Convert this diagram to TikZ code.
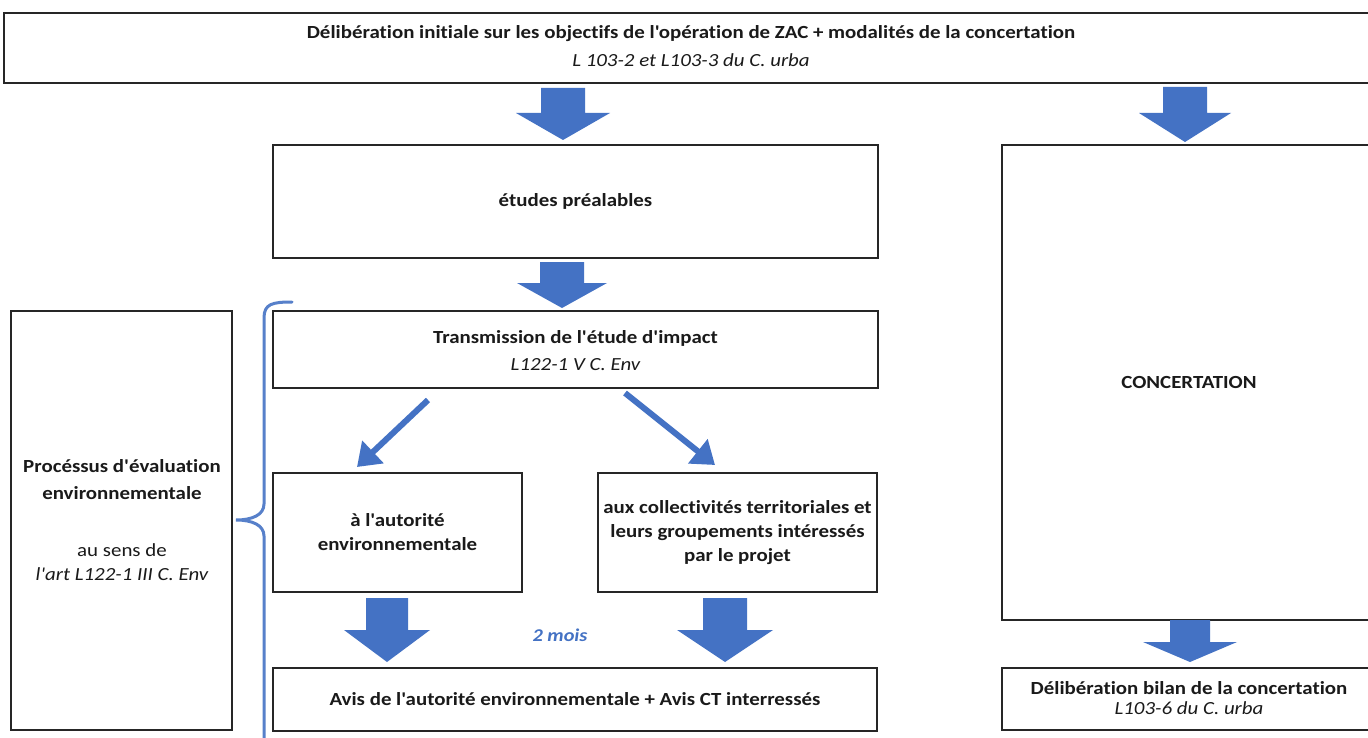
\documentclass[tikz,border=0pt]{standalone}
\usepackage{fontspec}
\setmainfont{Carlito}[Ligatures={TeXOff,NoCommon}, FakeStretch=1.13]
\usetikzlibrary{arrows.meta}
\definecolor{offblue}{HTML}{4472C4}
\definecolor{txt}{HTML}{1A1A1A}
\tikzset{
  box/.style={draw=black!85, line width=1.4pt, fill=white, inner sep=0pt, align=center, text=txt, font=\fontsize{18.5}{24}\selectfont\bfseries},
  lbl/.style={text=txt, align=center, inner sep=0pt},
  blk/.style={fill=offblue, draw=none},
  diag/.style={draw=offblue, line width=6pt, -{Triangle[length=22pt,width=30pt]}},
  brace/.style={draw=offblue!90!white, line width=3pt, line cap=round}
}
\newcommand{\blockarrow}[6]{% x, ytop, yhead, ytip, shaft half, head half
  \fill[blk] (#1-#5,#2) -- (#1+#5,#2) -- (#1+#5,#3) -- (#1+#6,#3) -- (#1,#4) -- (#1-#6,#3) -- (#1-#5,#3) -- cycle;}
\begin{document}
\begin{tikzpicture}[x=1pt,y=-1pt]
\clip (0,0) rectangle (1368,738);
\fill[white] (0,0) rectangle (1368,738);

% boxes
\node[box, minimum width=1376pt, minimum height=70pt] (top) at (692,48) {};
\node[lbl, font=\fontsize{18.5}{28}\selectfont] (toptxt) at (691,46)
  {\bfseries Délibération initiale sur les objectifs de l'opération de ZAC + modalités de la concertation\\
   \itshape L 103-2 et L103-3 du C. urba};

\node[box, minimum width=605pt, minimum height=113pt] (etudes) at (575.5,201.5) {études préalables};

\node[box, minimum width=605pt, minimum height=77pt] (trans) at (575.5,349.5) {};
\node[lbl, font=\fontsize{18.5}{27}\selectfont] (transtxt) at (575.5,351)
  {\bfseries Transmission de l'étude d'impact\\ \itshape L122-1 V C. Env};

\node[box, minimum width=249pt, minimum height=119pt] (autorite) at (397.5,532.5)
  {à l'autorité\\ environnementale};
\node[box, minimum width=279pt, minimum height=119pt] (collect) at (737.5,532.5)
  {aux collectivités territoriales et\\ leurs groupements intéressés\\ par le projet};

\node[box, minimum width=604pt, minimum height=63pt] (avis) at (575,699.5)
  {Avis de l'autorité environnementale + Avis CT interressés};

\node[box, minimum width=221pt, minimum height=419pt] (proc) at (121.5,520.5) {};
\node[lbl, font=\fontsize{18.5}{27}\selectfont] (proctxt) at (122,520)
  {\bfseries Procéssus d'évaluation\\ \bfseries environnementale\\[30pt]
   au sens de\\[-3pt] \itshape l'art L122-1 III C. Env};

\node[box, minimum width=374pt, minimum height=475pt] (concert) at (1189,382.5) {CONCERTATION};

\node[box, minimum width=374pt, minimum height=62pt] (bilan) at (1189,699) {};
\node[lbl, font=\fontsize{18.5}{20}\selectfont] (bilantxt) at (1189,698)
  {\bfseries Délibération bilan de la concertation\\ \itshape L103-6 du C. urba};

\node[text=offblue, inner sep=0pt, font=\fontsize{18}{20}\selectfont\bfseries\itshape] (mois) at (560,635) {2 mois};

% block arrows
\blockarrow{563}{88}{113}{140}{22}{47}
\blockarrow{1185}{87}{113}{142}{22}{46}
\blockarrow{562}{262}{283}{308}{22}{45}
\blockarrow{387}{598}{630}{662}{21}{43}
\blockarrow{725}{598}{630}{662}{22}{48}
\blockarrow{1190}{620}{642}{662}{20}{47}

% diagonal arrows
\coordinate (dla) at (428,400);
\coordinate (dlb) at (357,467);
\coordinate (dra) at (625,393);
\coordinate (drb) at (715,465);
\draw[diag] (dla) -- (dlb);
\draw[diag] (dra) -- (drb);

% brace
\coordinate (bt) at (292,302);
\draw[brace] (bt) .. controls (272,302) and (264,304) .. (264,318) -- (264,504)
  .. controls (264,515) and (252,520) .. (236,520)
  .. controls (252,520) and (264,525) .. (264,536) -- (264,750);
\end{tikzpicture}
\end{document}
